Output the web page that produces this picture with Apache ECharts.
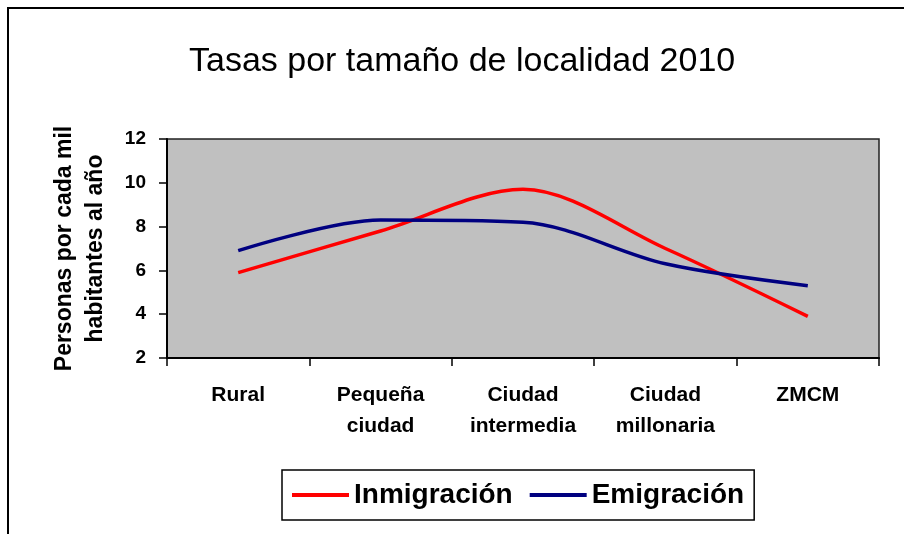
<!DOCTYPE html>
<html>
<head>
<meta charset="utf-8">
<script src="https://cdn.jsdelivr.net/npm/echarts@6/dist/echarts.min.js"></script>
<style>
  html, body { margin: 0; padding: 0; background: #fff; }
  #main { width: 904px; height: 534px; }
</style>
</head>
<body>
<div id="main"></div>
<script>
var categories = ['Rural', 'Pequeña\nciudad', 'Ciudad\nintermedia', 'Ciudad\nmillonaria', 'ZMCM'];
var inmigracion = [5.9, 7.8, 9.7, 7.0, 3.9];
var emigracion = [6.9, 8.3, 8.2, 6.3, 5.3];
var yTicks = { min: 2, max: 12, step: 2 };

var chart = echarts.init(document.getElementById('main'));
var font = 'Arial, "Liberation Sans", sans-serif';

var option = {
  backgroundColor: '#fff',
  animation: false,
  graphic: [
    {
      type: 'rect',
      shape: { x: 8, y: 8, width: 920, height: 560 },
      style: { fill: 'none', stroke: '#000', lineWidth: 2 },
      silent: true
    }
  ],
  title: {
    text: 'Tasas por tamaño de localidad 2010',
    left: 184,
    top: 40,
    textStyle: { fontFamily: font, fontSize: 34, fontWeight: 'normal', color: '#000' }
  },
  legend: {
    left: 282,
    top: 470,
    icon: 'rect',
    itemWidth: 57,
    itemHeight: 4,
    itemGap: 17,
    padding: [10, 10, 10, 10],
    borderColor: '#000',
    borderWidth: 1.5,
    textStyle: { fontFamily: font, fontSize: 28, fontWeight: 'bold', color: '#000', lineHeight: 30 },
    data: ['Inmigración', 'Emigración']
  },
  grid: {
    left: 167,
    right: 25,
    top: 139,
    bottom: 176,
    show: true,
    backgroundColor: '#c0c0c0',
    borderColor: '#222',
    borderWidth: 1.5
  },
  xAxis: {
    type: 'category',
    data: categories,
    boundaryGap: true,
    axisLine: { lineStyle: { color: '#000', width: 2 } },
    axisTick: { show: true, length: 8, lineStyle: { color: '#000', width: 1.5 } },
    axisLabel: {
      margin: 22,
      fontFamily: font,
      fontSize: 21,
      fontWeight: 'bold',
      color: '#000',
      lineHeight: 31,
      interval: 0
    },
    splitLine: { show: false }
  },
  yAxis: {
    type: 'value',
    min: yTicks.min,
    max: yTicks.max,
    interval: yTicks.step,
    name: 'Personas por cada mil\nhabitantes al año',
    nameLocation: 'middle',
    nameRotate: 90,
    nameGap: 56,
    nameTextStyle: { fontFamily: font, fontSize: 23, fontWeight: 'bold', color: '#000', lineHeight: 31 },
    axisLine: { show: true, lineStyle: { color: '#000', width: 2 } },
    axisTick: { show: true, length: 8, lineStyle: { color: '#000', width: 1.5 } },
    axisLabel: { margin: 21, fontFamily: font, fontSize: 19, fontWeight: 'bold', color: '#000' },
    splitLine: { show: false }
  },
  series: [
    {
      name: 'Inmigración',
      type: 'line',
      data: inmigracion,
      smooth: 0.32,
      symbol: 'none',
      itemStyle: { color: '#ff0000' },
      lineStyle: { color: '#ff0000', width: 3.5 }
    },
    {
      name: 'Emigración',
      type: 'line',
      data: emigracion,
      smooth: 0.32,
      symbol: 'none',
      itemStyle: { color: '#000080' },
      lineStyle: { color: '#000080', width: 3.5 }
    }
  ]
};

chart.setOption(option);
</script>
</body>
</html>
